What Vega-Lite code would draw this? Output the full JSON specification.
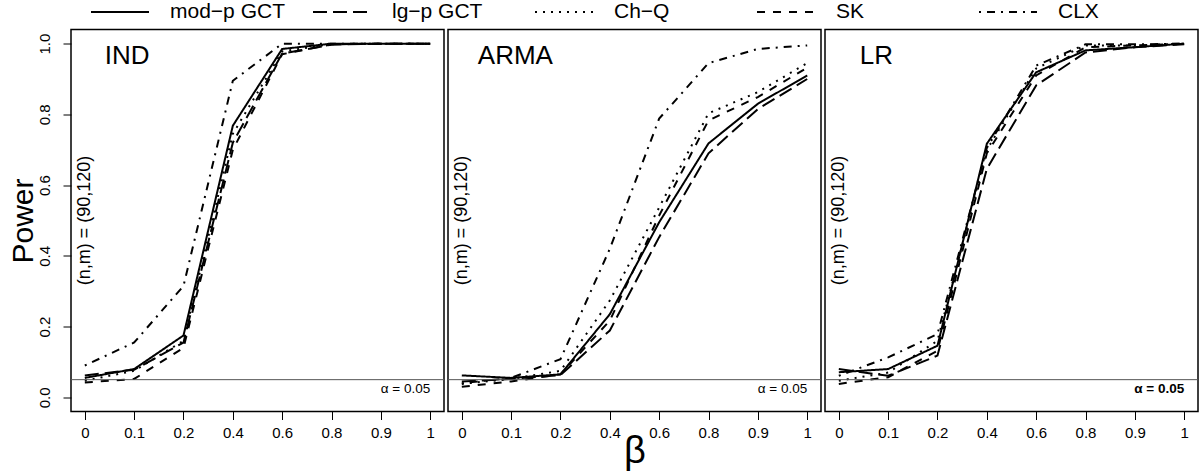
{
  "$schema": "https://vega.github.io/schema/vega-lite/v6.json",
  "padding": {"left": 7, "top": -18.5, "right": 0, "bottom": 0},
  "config": {
    "font": "Liberation Sans",
    "view": {"stroke": "black", "strokeWidth": 1.5},
    "axis": {"domain": false, "grid": false, "tickColor": "black", "tickSize": 8, "tickWidth": 1, "labelColor": "black", "labelFontSize": 15, "labelFont": "Liberation Sans", "titleColor": "black", "titleFont": "Liberation Sans", "titleFontWeight": "normal"},
    "concat": {"spacing": 0}
  },
  "datasets": {
    "power": [
      {"panel": "IND", "beta": "0", "test": "mod−p GCT", "power": 0.055},
      {"panel": "IND", "beta": "0.1", "test": "mod−p GCT", "power": 0.080},
      {"panel": "IND", "beta": "0.2", "test": "mod−p GCT", "power": 0.175},
      {"panel": "IND", "beta": "0.4", "test": "mod−p GCT", "power": 0.768},
      {"panel": "IND", "beta": "0.6", "test": "mod−p GCT", "power": 0.985},
      {"panel": "IND", "beta": "0.8", "test": "mod−p GCT", "power": 1.0},
      {"panel": "IND", "beta": "0.9", "test": "mod−p GCT", "power": 1.0},
      {"panel": "IND", "beta": "1", "test": "mod−p GCT", "power": 1.0},
      {"panel": "IND", "beta": "0", "test": "lg−p GCT", "power": 0.062},
      {"panel": "IND", "beta": "0.1", "test": "lg−p GCT", "power": 0.078},
      {"panel": "IND", "beta": "0.2", "test": "lg−p GCT", "power": 0.155},
      {"panel": "IND", "beta": "0.4", "test": "lg−p GCT", "power": 0.720},
      {"panel": "IND", "beta": "0.6", "test": "lg−p GCT", "power": 0.972},
      {"panel": "IND", "beta": "0.8", "test": "lg−p GCT", "power": 0.997},
      {"panel": "IND", "beta": "0.9", "test": "lg−p GCT", "power": 1.0},
      {"panel": "IND", "beta": "1", "test": "lg−p GCT", "power": 1.0},
      {"panel": "IND", "beta": "0", "test": "Ch−Q", "power": 0.047},
      {"panel": "IND", "beta": "0.1", "test": "Ch−Q", "power": 0.075},
      {"panel": "IND", "beta": "0.2", "test": "Ch−Q", "power": 0.160},
      {"panel": "IND", "beta": "0.4", "test": "Ch−Q", "power": 0.745},
      {"panel": "IND", "beta": "0.6", "test": "Ch−Q", "power": 0.978},
      {"panel": "IND", "beta": "0.8", "test": "Ch−Q", "power": 0.999},
      {"panel": "IND", "beta": "0.9", "test": "Ch−Q", "power": 1.0},
      {"panel": "IND", "beta": "1", "test": "Ch−Q", "power": 1.0},
      {"panel": "IND", "beta": "0", "test": "SK", "power": 0.042},
      {"panel": "IND", "beta": "0.1", "test": "SK", "power": 0.052},
      {"panel": "IND", "beta": "0.2", "test": "SK", "power": 0.140},
      {"panel": "IND", "beta": "0.4", "test": "SK", "power": 0.700},
      {"panel": "IND", "beta": "0.6", "test": "SK", "power": 0.970},
      {"panel": "IND", "beta": "0.8", "test": "SK", "power": 0.998},
      {"panel": "IND", "beta": "0.9", "test": "SK", "power": 1.0},
      {"panel": "IND", "beta": "1", "test": "SK", "power": 1.0},
      {"panel": "IND", "beta": "0", "test": "CLX", "power": 0.090},
      {"panel": "IND", "beta": "0.1", "test": "CLX", "power": 0.155},
      {"panel": "IND", "beta": "0.2", "test": "CLX", "power": 0.315},
      {"panel": "IND", "beta": "0.4", "test": "CLX", "power": 0.895},
      {"panel": "IND", "beta": "0.6", "test": "CLX", "power": 1.0},
      {"panel": "IND", "beta": "0.8", "test": "CLX", "power": 1.0},
      {"panel": "IND", "beta": "0.9", "test": "CLX", "power": 1.0},
      {"panel": "IND", "beta": "1", "test": "CLX", "power": 1.0},

      {"panel": "ARMA", "beta": "0", "test": "mod−p GCT", "power": 0.062},
      {"panel": "ARMA", "beta": "0.1", "test": "mod−p GCT", "power": 0.055},
      {"panel": "ARMA", "beta": "0.2", "test": "mod−p GCT", "power": 0.065},
      {"panel": "ARMA", "beta": "0.4", "test": "mod−p GCT", "power": 0.235},
      {"panel": "ARMA", "beta": "0.6", "test": "mod−p GCT", "power": 0.495},
      {"panel": "ARMA", "beta": "0.8", "test": "mod−p GCT", "power": 0.718},
      {"panel": "ARMA", "beta": "0.9", "test": "mod−p GCT", "power": 0.830},
      {"panel": "ARMA", "beta": "1", "test": "mod−p GCT", "power": 0.910},
      {"panel": "ARMA", "beta": "0", "test": "lg−p GCT", "power": 0.045},
      {"panel": "ARMA", "beta": "0.1", "test": "lg−p GCT", "power": 0.052},
      {"panel": "ARMA", "beta": "0.2", "test": "lg−p GCT", "power": 0.063},
      {"panel": "ARMA", "beta": "0.4", "test": "lg−p GCT", "power": 0.189},
      {"panel": "ARMA", "beta": "0.6", "test": "lg−p GCT", "power": 0.453},
      {"panel": "ARMA", "beta": "0.8", "test": "lg−p GCT", "power": 0.690},
      {"panel": "ARMA", "beta": "0.9", "test": "lg−p GCT", "power": 0.815},
      {"panel": "ARMA", "beta": "1", "test": "lg−p GCT", "power": 0.900},
      {"panel": "ARMA", "beta": "0", "test": "Ch−Q", "power": 0.038},
      {"panel": "ARMA", "beta": "0.1", "test": "Ch−Q", "power": 0.052},
      {"panel": "ARMA", "beta": "0.2", "test": "Ch−Q", "power": 0.075},
      {"panel": "ARMA", "beta": "0.4", "test": "Ch−Q", "power": 0.274},
      {"panel": "ARMA", "beta": "0.6", "test": "Ch−Q", "power": 0.537},
      {"panel": "ARMA", "beta": "0.8", "test": "Ch−Q", "power": 0.803},
      {"panel": "ARMA", "beta": "0.9", "test": "Ch−Q", "power": 0.863},
      {"panel": "ARMA", "beta": "1", "test": "Ch−Q", "power": 0.945},
      {"panel": "ARMA", "beta": "0", "test": "SK", "power": 0.030},
      {"panel": "ARMA", "beta": "0.1", "test": "SK", "power": 0.045},
      {"panel": "ARMA", "beta": "0.2", "test": "SK", "power": 0.065},
      {"panel": "ARMA", "beta": "0.4", "test": "SK", "power": 0.217},
      {"panel": "ARMA", "beta": "0.6", "test": "SK", "power": 0.514},
      {"panel": "ARMA", "beta": "0.8", "test": "SK", "power": 0.783},
      {"panel": "ARMA", "beta": "0.9", "test": "SK", "power": 0.849},
      {"panel": "ARMA", "beta": "1", "test": "SK", "power": 0.932},
      {"panel": "ARMA", "beta": "0", "test": "CLX", "power": 0.040},
      {"panel": "ARMA", "beta": "0.1", "test": "CLX", "power": 0.055},
      {"panel": "ARMA", "beta": "0.2", "test": "CLX", "power": 0.108},
      {"panel": "ARMA", "beta": "0.4", "test": "CLX", "power": 0.420},
      {"panel": "ARMA", "beta": "0.6", "test": "CLX", "power": 0.788},
      {"panel": "ARMA", "beta": "0.8", "test": "CLX", "power": 0.945},
      {"panel": "ARMA", "beta": "0.9", "test": "CLX", "power": 0.985},
      {"panel": "ARMA", "beta": "1", "test": "CLX", "power": 0.995},

      {"panel": "LR", "beta": "0", "test": "mod−p GCT", "power": 0.071},
      {"panel": "LR", "beta": "0.1", "test": "mod−p GCT", "power": 0.080},
      {"panel": "LR", "beta": "0.2", "test": "mod−p GCT", "power": 0.146},
      {"panel": "LR", "beta": "0.4", "test": "mod−p GCT", "power": 0.717},
      {"panel": "LR", "beta": "0.6", "test": "mod−p GCT", "power": 0.919},
      {"panel": "LR", "beta": "0.8", "test": "mod−p GCT", "power": 0.981},
      {"panel": "LR", "beta": "0.9", "test": "mod−p GCT", "power": 0.990},
      {"panel": "LR", "beta": "1", "test": "mod−p GCT", "power": 1.0},
      {"panel": "LR", "beta": "0", "test": "lg−p GCT", "power": 0.080},
      {"panel": "LR", "beta": "0.1", "test": "lg−p GCT", "power": 0.061},
      {"panel": "LR", "beta": "0.2", "test": "lg−p GCT", "power": 0.118},
      {"panel": "LR", "beta": "0.4", "test": "lg−p GCT", "power": 0.646},
      {"panel": "LR", "beta": "0.6", "test": "lg−p GCT", "power": 0.882},
      {"panel": "LR", "beta": "0.8", "test": "lg−p GCT", "power": 0.975},
      {"panel": "LR", "beta": "0.9", "test": "lg−p GCT", "power": 0.990},
      {"panel": "LR", "beta": "1", "test": "lg−p GCT", "power": 0.998},
      {"panel": "LR", "beta": "0", "test": "Ch−Q", "power": 0.047},
      {"panel": "LR", "beta": "0.1", "test": "Ch−Q", "power": 0.070},
      {"panel": "LR", "beta": "0.2", "test": "Ch−Q", "power": 0.160},
      {"panel": "LR", "beta": "0.4", "test": "Ch−Q", "power": 0.700},
      {"panel": "LR", "beta": "0.6", "test": "Ch−Q", "power": 0.930},
      {"panel": "LR", "beta": "0.8", "test": "Ch−Q", "power": 0.995},
      {"panel": "LR", "beta": "0.9", "test": "Ch−Q", "power": 0.995},
      {"panel": "LR", "beta": "1", "test": "Ch−Q", "power": 1.0},
      {"panel": "LR", "beta": "0", "test": "SK", "power": 0.038},
      {"panel": "LR", "beta": "0.1", "test": "SK", "power": 0.057},
      {"panel": "LR", "beta": "0.2", "test": "SK", "power": 0.132},
      {"panel": "LR", "beta": "0.4", "test": "SK", "power": 0.690},
      {"panel": "LR", "beta": "0.6", "test": "SK", "power": 0.910},
      {"panel": "LR", "beta": "0.8", "test": "SK", "power": 0.990},
      {"panel": "LR", "beta": "0.9", "test": "SK", "power": 0.995},
      {"panel": "LR", "beta": "1", "test": "SK", "power": 1.0},
      {"panel": "LR", "beta": "0", "test": "CLX", "power": 0.061},
      {"panel": "LR", "beta": "0.1", "test": "CLX", "power": 0.113},
      {"panel": "LR", "beta": "0.2", "test": "CLX", "power": 0.179},
      {"panel": "LR", "beta": "0.4", "test": "CLX", "power": 0.705},
      {"panel": "LR", "beta": "0.6", "test": "CLX", "power": 0.938},
      {"panel": "LR", "beta": "0.8", "test": "CLX", "power": 0.998},
      {"panel": "LR", "beta": "0.9", "test": "CLX", "power": 0.998},
      {"panel": "LR", "beta": "1", "test": "CLX", "power": 1.0}
    ]
  },
  "hconcat": [
    {
      "width": 373, "height": 382,
      "layer": [
        {
          "data": {"name": "power"},
          "transform": [{"filter": "datum.panel === 'IND'"}],
          "mark": {"type": "line", "color": "black", "strokeWidth": 2},
          "encoding": {
            "x": {"field": "beta", "type": "ordinal", "sort": ["0", "0.1", "0.2", "0.4", "0.6", "0.8", "0.9", "1"], "scale": {"type": "point", "padding": 0.28}, "axis": {"title": null, "labelAngle": 0, "labelPadding": 6, "labelBaseline": "top"}},
            "y": {"field": "power", "type": "quantitative", "scale": {"domain": [-0.04, 1.04], "nice": false, "zero": false}, "axis": {"values": [0, 0.2, 0.4, 0.6, 0.8, 1.0], "format": ".1f", "labelAngle": 270, "labelAlign": "center", "labelBaseline": "alphabetic", "labelPadding": 14, "title": "Power", "titleFontSize": 30, "titleAngle": 270, "titleX": -39, "titleY": 191, "titleAlign": "center", "titleBaseline": "alphabetic"}},
            "strokeDash": {"field": "test", "type": "nominal", "sort": ["mod−p GCT", "lg−p GCT", "Ch−Q", "SK", "CLX"], "scale": {"domain": ["mod−p GCT", "lg−p GCT", "Ch−Q", "SK", "CLX"], "range": [[1, 0], [14, 6], [2, 6], [8, 8], [2, 6, 8, 6]]}, "legend": {"title": null, "orient": "none", "legendX": 19, "legendY": -47.5, "direction": "horizontal", "columns": 5, "gridAlign": "all", "columnPadding": 24, "padding": 0, "symbolType": "stroke", "symbolSize": 3364, "symbolStrokeWidth": 2, "symbolStrokeColor": "black", "labelFontSize": 21, "labelOffset": 20, "labelColor": "black", "labelFont": "Liberation Sans"}}
          }
        },
        {"data": {"values": [{"alpha": 0.05}]}, "mark": {"type": "rule", "color": "#555555", "strokeWidth": 1}, "encoding": {"y": {"field": "alpha", "type": "quantitative"}}},
        {"data": {"values": [{"label": "IND"}]}, "mark": {"type": "text", "fontSize": 26, "align": "left", "baseline": "alphabetic", "dx": 20, "color": "black"}, "encoding": {"text": {"field": "label"}, "x": {"datum": "0"}, "y": {"datum": 0.943}}},
        {"data": {"values": [{"label": "(n,m) = (90,120)"}]}, "mark": {"type": "text", "fontSize": 18, "angle": 270, "align": "center", "baseline": "middle", "color": "black"}, "encoding": {"text": {"field": "label"}, "x": {"datum": "0"}, "y": {"datum": 0.5}}},
        {"data": {"values": [{"label": "α = 0.05"}]}, "mark": {"type": "text", "fontSize": 13.5, "align": "right", "baseline": "middle", "color": "black"}, "encoding": {"text": {"field": "label"}, "x": {"datum": "1"}, "y": {"datum": 0.024}}}
      ]
    },
    {
      "width": 373, "height": 382,
      "layer": [
        {
          "data": {"name": "power"},
          "transform": [{"filter": "datum.panel === 'ARMA'"}],
          "mark": {"type": "line", "color": "black", "strokeWidth": 2},
          "encoding": {
            "x": {"field": "beta", "type": "ordinal", "sort": ["0", "0.1", "0.2", "0.4", "0.6", "0.8", "0.9", "1"], "scale": {"type": "point", "padding": 0.28}, "axis": {"title": "β", "titleFontSize": 38, "titleBaseline": "alphabetic", "titleY": 51, "labelAngle": 0, "labelPadding": 6, "labelBaseline": "top"}},
            "y": {"field": "power", "type": "quantitative", "scale": {"domain": [-0.04, 1.04], "nice": false, "zero": false}, "axis": null},
            "strokeDash": {"field": "test", "type": "nominal", "sort": ["mod−p GCT", "lg−p GCT", "Ch−Q", "SK", "CLX"], "scale": {"domain": ["mod−p GCT", "lg−p GCT", "Ch−Q", "SK", "CLX"], "range": [[1, 0], [14, 6], [2, 6], [8, 8], [2, 6, 8, 6]]}}
          }
        },
        {"data": {"values": [{"alpha": 0.05}]}, "mark": {"type": "rule", "color": "#555555", "strokeWidth": 1}, "encoding": {"y": {"field": "alpha", "type": "quantitative"}}},
        {"data": {"values": [{"label": "ARMA"}]}, "mark": {"type": "text", "fontSize": 26, "align": "left", "baseline": "alphabetic", "dx": 16, "color": "black"}, "encoding": {"text": {"field": "label"}, "x": {"datum": "0"}, "y": {"datum": 0.943}}},
        {"data": {"values": [{"label": "(n,m) = (90,120)"}]}, "mark": {"type": "text", "fontSize": 18, "angle": 270, "align": "center", "baseline": "middle", "color": "black"}, "encoding": {"text": {"field": "label"}, "x": {"datum": "0"}, "y": {"datum": 0.5}}},
        {"data": {"values": [{"label": "α = 0.05"}]}, "mark": {"type": "text", "fontSize": 13.5, "align": "right", "baseline": "middle", "color": "black"}, "encoding": {"text": {"field": "label"}, "x": {"datum": "1"}, "y": {"datum": 0.024}}}
      ]
    },
    {
      "width": 373, "height": 382,
      "layer": [
        {
          "data": {"name": "power"},
          "transform": [{"filter": "datum.panel === 'LR'"}],
          "mark": {"type": "line", "color": "black", "strokeWidth": 2},
          "encoding": {
            "x": {"field": "beta", "type": "ordinal", "sort": ["0", "0.1", "0.2", "0.4", "0.6", "0.8", "0.9", "1"], "scale": {"type": "point", "padding": 0.28}, "axis": {"title": null, "labelAngle": 0, "labelPadding": 6, "labelBaseline": "top"}},
            "y": {"field": "power", "type": "quantitative", "scale": {"domain": [-0.04, 1.04], "nice": false, "zero": false}, "axis": null},
            "strokeDash": {"field": "test", "type": "nominal", "sort": ["mod−p GCT", "lg−p GCT", "Ch−Q", "SK", "CLX"], "scale": {"domain": ["mod−p GCT", "lg−p GCT", "Ch−Q", "SK", "CLX"], "range": [[1, 0], [14, 6], [2, 6], [8, 8], [2, 6, 8, 6]]}}
          }
        },
        {"data": {"values": [{"alpha": 0.05}]}, "mark": {"type": "rule", "color": "#555555", "strokeWidth": 1}, "encoding": {"y": {"field": "alpha", "type": "quantitative"}}},
        {"data": {"values": [{"label": "LR"}]}, "mark": {"type": "text", "fontSize": 26, "align": "left", "baseline": "alphabetic", "dx": 21, "color": "black"}, "encoding": {"text": {"field": "label"}, "x": {"datum": "0"}, "y": {"datum": 0.943}}},
        {"data": {"values": [{"label": "(n,m) = (90,120)"}]}, "mark": {"type": "text", "fontSize": 18, "angle": 270, "align": "center", "baseline": "middle", "color": "black"}, "encoding": {"text": {"field": "label"}, "x": {"datum": "0"}, "y": {"datum": 0.5}}},
        {"data": {"values": [{"label": "α = 0.05"}]}, "mark": {"type": "text", "fontSize": 13.5, "fontWeight": "bold", "align": "right", "baseline": "middle", "color": "black"}, "encoding": {"text": {"field": "label"}, "x": {"datum": "1"}, "y": {"datum": 0.024}}}
      ]
    }
  ]
}
